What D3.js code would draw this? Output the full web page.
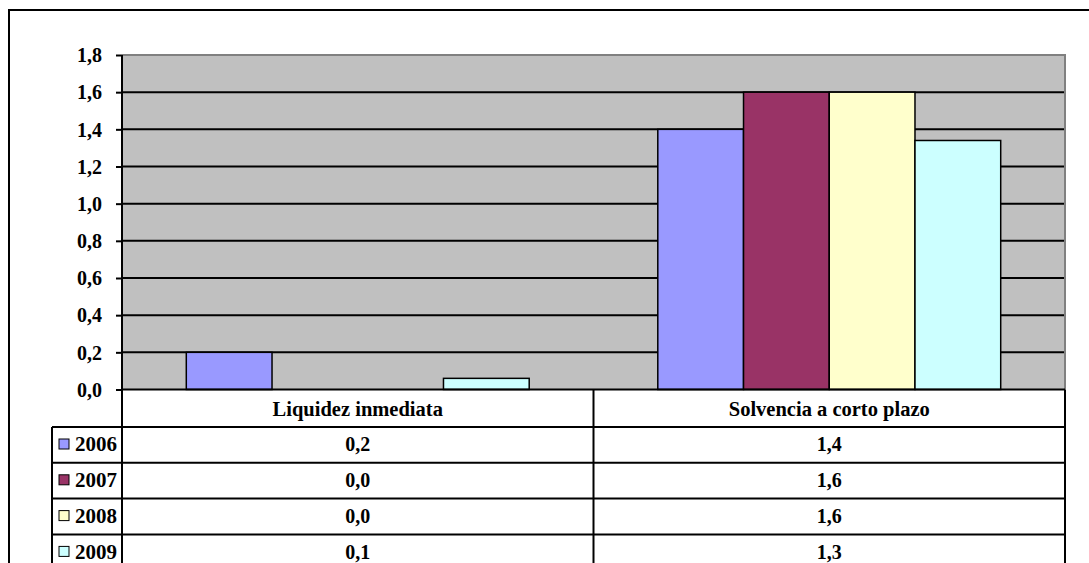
<!DOCTYPE html>
<html>
<head>
<meta charset="utf-8">
<script src="https://cdnjs.cloudflare.com/ajax/libs/d3/7.8.5/d3.min.js"></script>
<style>
  html, body { margin: 0; padding: 0; background: #fff; }
  svg { display: block; }
  svg text { font-family: "Liberation Serif", "Times New Roman", Times, serif; font-weight: bold; fill: #000; }
</style>
</head>
<body>
<svg id="chart" width="1089" height="563" font-family="Liberation Serif, Times New Roman, serif"></svg>
<script>
const categories = ["Liquidez inmediata", "Solvencia a corto plazo"];
const series = ["2006", "2007", "2008", "2009"];
const values2006 = [0.2, 1.4];
const values2007 = [0.0, 1.6];
const values2008 = [0.0, 1.6];
const values2009 = [0.06, 1.34];
const seriesColors = ["#9999FF", "#993366", "#FFFFCC", "#CCFFFF"];
const yTicks = [0, 0.2, 0.4, 0.6, 0.8, 1.0, 1.2, 1.4, 1.6, 1.8];

const seriesValues = [values2006, values2007, values2008, values2009];

const svg = d3.select("#chart");
const W = 1089, H = 563;
const FONT = "Liberation Serif, Times New Roman, serif";

const plot = { left: 122, right: 1065, top: 55, bottom: 389.5 };
const rowH = 35.8;
const headerBottom = 427;
const legendLeft = 52;

const locale = d3.formatLocale({ decimal: ",", thousands: ".", grouping: [3], currency: ["", ""] });
const fmt = locale.format(".1f");

// outer frame
svg.append("rect")
  .attr("x", 9).attr("y", 10).attr("width", W + 20).attr("height", H + 20)
  .attr("fill", "#fff").attr("stroke", "#000").attr("stroke-width", 2);

const x0 = d3.scaleBand().domain(categories).range([plot.left, plot.right]).padding(0);
const x1 = d3.scaleBand().domain(series).range([0, x0.bandwidth()]).paddingInner(0).paddingOuter(0.75);
const y = d3.scaleLinear().domain([0, 1.8]).range([plot.bottom, plot.top]);

// plot background
svg.append("rect")
  .attr("x", plot.left).attr("y", plot.top)
  .attr("width", plot.right - plot.left).attr("height", plot.bottom - plot.top)
  .attr("fill", "#C0C0C0");

// gridlines
svg.append("g").selectAll("line")
  .data(yTicks.filter(t => t > 0 && t < 1.8))
  .join("line")
  .attr("x1", plot.left).attr("x2", plot.right)
  .attr("y1", d => y(d)).attr("y2", d => y(d))
  .attr("stroke", "#000").attr("stroke-width", 2);

// plot top/right border (gray)
svg.append("path")
  .attr("d", `M${plot.left},${plot.top}H${plot.right}V${plot.bottom}`)
  .attr("fill", "none").attr("stroke", "#808080").attr("stroke-width", 2);

// bars
const barData = [];
categories.forEach((c, ci) => {
  series.forEach((s, si) => {
    barData.push({ c, s, si, v: seriesValues[si][ci] });
  });
});

svg.append("g").selectAll("rect")
  .data(barData.filter(d => d.v > 0))
  .join("rect")
  .attr("x", d => x0(d.c) + x1(d.s))
  .attr("y", d => y(d.v))
  .attr("width", x1.bandwidth())
  .attr("height", d => y(0) - y(d.v))
  .attr("fill", d => seriesColors[d.si])
  .attr("stroke", "#000").attr("stroke-width", 1.5);

// y axis
const yAxis = d3.axisLeft(y).tickValues(yTicks).tickFormat(locale.format(".1f")).tickSize(6).tickPadding(14);
const gy = svg.append("g").attr("transform", `translate(${plot.left},0)`).call(yAxis)
  .attr("font-family", FONT).attr("font-size", 20);
gy.select(".domain").remove();
gy.selectAll(".tick line").attr("stroke", "#000").attr("stroke-width", 2);
gy.selectAll(".tick text")
  .attr("font-family", FONT)
  .attr("font-weight", "bold").attr("font-size", 20).attr("fill", "#000")
  .attr("dy", "0.34em");

// table
const nRows = series.length;
const tableBottom = headerBottom + rowH * nRows;

const tg = svg.append("g").attr("font-family", FONT).attr("font-weight", "bold");
// header row (category names)
tg.selectAll("text.cat")
  .data(categories)
  .join("text")
  .attr("class", "cat")
  .attr("x", d => x0(d) + x0.bandwidth() / 2)
  .attr("y", (plot.bottom + headerBottom) / 2 + 8)
  .attr("text-anchor", "middle")
  .attr("font-size", 20.5)
  .text(d => d);

// rows
series.forEach((s, si) => {
  const top = headerBottom + si * rowH;
  const cy = top + rowH / 2 + 6.5;
  // legend swatch
  tg.append("rect")
    .attr("x", 59).attr("y", top + 12).attr("width", 10).attr("height", 10)
    .attr("fill", seriesColors[si]).attr("stroke", "#000").attr("stroke-width", 1);
  tg.append("text")
    .attr("x", 75).attr("y", cy).attr("font-size", 21).text(s);
  categories.forEach((c, ci) => {
    tg.append("text")
      .attr("x", x0(c) + x0.bandwidth() / 2)
      .attr("y", cy)
      .attr("text-anchor", "middle")
      .attr("font-size", 20)
      .text(fmt(seriesValues[si][ci]));
  });
});

// table lines
const lines = [];
lines.push([plot.left, plot.bottom, plot.right, plot.bottom]);
for (let i = 0; i <= nRows; i++) {
  const yy = headerBottom + i * rowH;
  lines.push([legendLeft, yy, plot.right, yy]);
}
lines.push([plot.left, plot.top, plot.left, tableBottom]);
lines.push([legendLeft, headerBottom, legendLeft, tableBottom]);
lines.push([x0(categories[1]), plot.bottom, x0(categories[1]), tableBottom]);
lines.push([plot.right, plot.bottom, plot.right, tableBottom]);

tg.selectAll("line")
  .data(lines)
  .join("line")
  .attr("x1", d => d[0]).attr("y1", d => d[1])
  .attr("x2", d => d[2]).attr("y2", d => d[3])
  .attr("stroke", "#000").attr("stroke-width", 2);
</script>
</body>
</html>
